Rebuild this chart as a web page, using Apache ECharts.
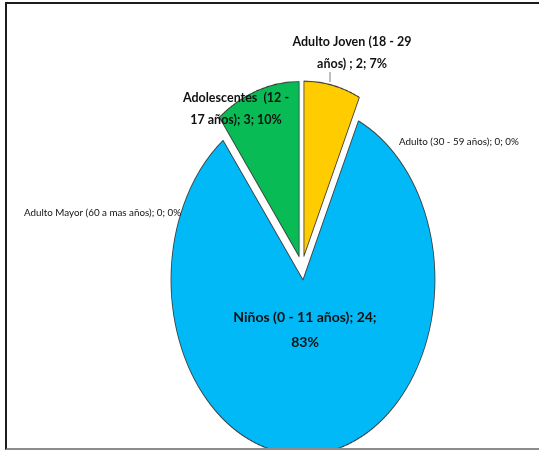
<!DOCTYPE html>
<html>
<head>
<meta charset="utf-8">
<script src="https://cdn.jsdelivr.net/npm/echarts@6/dist/echarts.min.js"></script>
<style>
  html, body { margin: 0; padding: 0; background: #fff; }
  #stage { position: relative; width: 539px; height: 450px; overflow: hidden; background: #fff; }
  #pieClip { position: absolute; left: 0; top: 0; width: 539px; height: 448px; overflow: hidden; }
  #pie { position: absolute; left: 0; top: 0; width: 539px; height: 450px;
         transform: scaleY(1.326); transform-origin: 0 0; }
  #labels { position: absolute; left: 0; top: 0; width: 539px; height: 450px; }
  #frame { position: absolute; left: 5px; top: 2px; width: 540px; height: 444px;
           border-left: 2px solid #1c1c1c; border-top: 2px solid #1c1c1c;
           border-bottom: 2px solid #8c8c8c; pointer-events: none; }
</style>
</head>
<body>
<div id="stage">
  <div id="pieClip"><div id="pie"></div></div>
  <div id="labels"></div>
  <div id="frame"></div>
</div>
<script>
// Age groups and number of people in each
const categories = [
  'Niños (0 - 11 años)',
  'Adolescentes  (12 - 17 años)',
  'Adulto Joven (18 - 29 años) ',
  'Adulto (30 - 59 años)',
  'Adulto Mayor (60 a mas años)'
];
const counts = [24, 3, 2, 0, 0];
const colors = ['#00B9F6', '#08BB55', '#FFCC00', '#4472C4', '#ED7D31'];

// Where each label wraps onto a second line (text after which the break goes)
const labelBreaks = ['24;', '(12 -', '29', null, null];

// Label placement (text anchor on the page) and text size
const labelSpots = [
  { x: 305, y: 330, align: 'center', bold: true,  size: 14,   lh: 25 },
  { x: 236, y: 109, align: 'center', bold: true,  size: 12.5, lh: 22 },
  { x: 352, y: 53,  align: 'center', bold: true,  size: 12.5, lh: 22 },
  { x: 399, y: 142, align: 'left',   bold: false, size: 9.8,  lh: 14 },
  { x: 24,  y: 213, align: 'left',   bold: false, size: 9.8,  lh: 14 }
];

const FONT = "Lato, 'Open Sans', sans-serif";
const total = counts.reduce((a, b) => a + b, 0);
// the boundary between the young-adult and teenage slices sits at 12 o'clock
const START = 90 - 360 * counts[2] / total;

const pieCenter = [302, 202];
const pieRadius = 132;

// Filled slices (vertically stretched by the container transform)
const pieChart = echarts.init(document.getElementById('pie'), null, { renderer: 'canvas', devicePixelRatio: 2 });
pieChart.setOption({
  animation: false,
  series: [{
    type: 'pie',
    center: pieCenter,
    radius: pieRadius,
    startAngle: START,
    clockwise: true,
    selectedMode: 'multiple',
    selectedOffset: 9,
    avoidLabelOverlap: false,
    label: { show: false },
    labelLine: { show: false },
    emphasis: { disabled: true },
    data: categories.map((name, i) => ({
      name,
      value: counts[i],
      selected: true,
      itemStyle: {
        color: colors[i],
        borderColor: '#3a3a3a',
        borderWidth: counts[i] > 0 ? 0.8 : 0
      }
    }))
  }]
});

// Data labels drawn unstretched on top
const labelChart = echarts.init(document.getElementById('labels'), null, { renderer: 'canvas' });
labelChart.setOption({
  animation: false,
  series: [{
    type: 'pie',
    center: [302, 268],
    radius: pieRadius,
    startAngle: START,
    clockwise: true,
    silent: true,
    percentPrecision: 0,
    avoidLabelOverlap: false,
    emphasis: { disabled: true },
    itemStyle: { color: 'rgba(0,0,0,0)', borderWidth: 0 },
    label: {
      show: true,
      position: 'outside',
      color: '#111',
      fontFamily: FONT,
      formatter: p => {
        const text = `${p.name}; ${p.value}; ${p.percent}%`;
        const br = labelBreaks[p.dataIndex];
        return br ? text.replace(br + ' ', br + '\n') : text;
      }
    },
    labelLine: { show: false },
    labelLayout: params => {
      const s = labelSpots[params.dataIndex];
      const out = { x: s.x, y: s.y, align: s.align, verticalAlign: 'middle' };
      if (params.dataIndex === 2) {
        // short leader from the top of the yellow slice up to its label
        out.labelLinePoints = [[330, 82], [330, 77], [330, 72]];
      }
      return out;
    },
    data: categories.map((name, i) => {
      const s = labelSpots[i];
      return {
        name,
        value: counts[i],
        label: {
          fontSize: s.size,
          fontWeight: s.bold ? 'bold' : 'normal',
          lineHeight: s.lh,
          align: s.align
        },
        labelLine: i === 2
          ? { show: true, length: 4, length2: 4, lineStyle: { color: '#7f7f7f', width: 1 } }
          : { show: false }
      };
    })
  }]
});
</script>
</body>
</html>
